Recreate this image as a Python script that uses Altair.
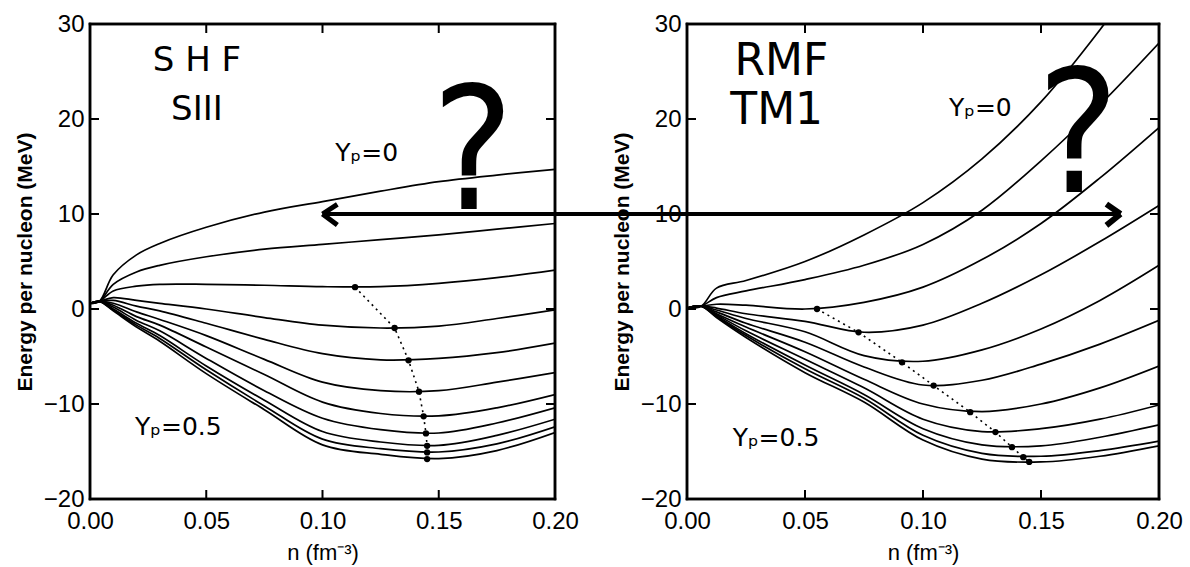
import altair as alt
import pandas as pd

# ---------------- data ----------------
yp_values = [0.0, 0.05, 0.10, 0.15, 0.20, 0.25, 0.30, 0.35, 0.40, 0.45, 0.50]

# SHF (SIII) panel
shf_n = [0.0, 0.004, 0.01, 0.02, 0.03, 0.05, 0.075, 0.10, 0.125, 0.15, 0.175, 0.20]
shf_yp00 = [0.6, 0.8, 3.6, 5.7, 6.9, 8.6, 10.2, 11.3, 12.4, 13.4, 14.1, 14.7]
shf_yp05 = [0.6, 0.8, 2.6, 3.9, 4.6, 5.5, 6.3, 6.8, 7.3, 7.8, 8.4, 9.0]
shf_yp10 = [0.6, 0.8, 1.9, 2.4, 2.6, 2.6, 2.5, 2.35, 2.35, 2.7, 3.3, 4.1]
shf_yp15 = [0.6, 0.8, 1.2, 0.9, 0.6, 0.0, -0.9, -1.7, -2.0, -1.8, -1.0, -0.1]
shf_yp20 = [0.6, 0.8, 0.9, 0.3, -0.2, -1.5, -3.2, -4.7, -5.35, -5.2, -4.6, -3.6]
shf_yp25 = [0.6, 0.8, 0.6, -0.3, -1.1, -2.8, -5.3, -7.7, -8.6, -8.6, -7.7, -6.7]
shf_yp30 = [0.6, 0.8, 0.4, -0.8, -1.7, -4.0, -6.9, -9.8, -11.0, -11.25, -10.4, -9.0]
shf_yp35 = [0.6, 0.8, 0.2, -1.2, -2.3, -5.2, -8.6, -11.5, -12.7, -13.05, -12.0, -10.4]
shf_yp40 = [0.6, 0.8, 0.0, -1.5, -2.8, -6.0, -9.6, -12.9, -14.0, -14.35, -13.3, -11.6]
shf_yp45 = [0.6, 0.8, -0.1, -1.7, -3.1, -6.4, -10.2, -13.7, -14.7, -15.05, -14.2, -12.4]
shf_yp50 = [0.6, 0.8, -0.2, -1.9, -3.4, -6.8, -10.6, -14.3, -15.3, -15.75, -14.9, -13.0]
shf_curves = [shf_yp00, shf_yp05, shf_yp10, shf_yp15, shf_yp20, shf_yp25,
              shf_yp30, shf_yp35, shf_yp40, shf_yp45, shf_yp50]
shf_sat_n = [0.114, 0.131, 0.137, 0.1415, 0.1435, 0.1445, 0.145, 0.145, 0.145]
shf_sat_E = [2.3, -2.0, -5.4, -8.7, -11.3, -13.1, -14.4, -15.1, -15.8]

# RMF (TM1) panel
tm1_n = [0.0, 0.006, 0.0125, 0.025, 0.05, 0.075, 0.10, 0.125, 0.15, 0.175, 0.20]
tm1_yp00 = [0.1, 0.3, 2.2, 3.0, 5.0, 7.8, 11.2, 15.8, 21.8, 29.4, 38.0]
tm1_yp05 = [0.1, 0.3, 1.2, 1.9, 3.1, 4.6, 6.8, 10.4, 15.6, 21.5, 28.0]
tm1_yp10 = [0.1, 0.3, 0.5, 0.4, 0.0, 0.7, 2.3, 5.2, 9.0, 13.8, 19.1]
tm1_yp15 = [0.1, 0.3, 0.1, -0.5, -1.3, -2.45, -1.7, 0.6, 3.6, 7.1, 10.9]
tm1_yp20 = [0.1, 0.3, -0.1, -1.0, -2.4, -4.9, -5.5, -4.3, -2.1, 0.9, 4.6]
tm1_yp25 = [0.1, 0.3, -0.3, -1.5, -3.5, -6.1, -8.0, -7.5, -5.8, -3.7, -1.2]
tm1_yp30 = [0.1, 0.3, -0.5, -1.9, -4.5, -7.4, -10.0, -10.8, -10.0, -8.3, -6.0]
tm1_yp35 = [0.1, 0.3, -0.6, -2.3, -5.3, -8.3, -11.6, -12.9, -12.6, -11.6, -10.1]
tm1_yp40 = [0.1, 0.3, -0.7, -2.6, -5.9, -9.0, -12.6, -14.3, -14.4, -13.5, -12.2]
tm1_yp45 = [0.1, 0.3, -0.8, -2.8, -6.3, -9.4, -13.3, -15.2, -15.5, -14.9, -13.9]
tm1_yp50 = [0.1, 0.3, -0.9, -3.0, -6.7, -9.8, -13.8, -15.8, -16.1, -15.5, -14.4]
tm1_curves = [tm1_yp00, tm1_yp05, tm1_yp10, tm1_yp15, tm1_yp20, tm1_yp25,
              tm1_yp30, tm1_yp35, tm1_yp40, tm1_yp45, tm1_yp50]
tm1_sat_n = [0.0551, 0.0727, 0.0911, 0.1045, 0.120, 0.1307, 0.1377, 0.1425, 0.145]
tm1_sat_E = [0.0, -2.46, -5.61, -8.06, -10.86, -12.96, -14.54, -15.6, -16.1]

# axes
n_domain = [0.0, 0.2]
E_domain = [-20, 30]
x_ticks = [0.0, 0.05, 0.10, 0.15, 0.20]
y_ticks = [-20, -10, 0, 10, 20, 30]

# annotations
shf_labels = ["S H F", "SIII"]
shf_label_n = [0.046, 0.046]
shf_label_E = [26.1, 20.9]
tm1_labels = ["RMF", "TM1"]
tm1_label_n = [0.040, 0.038]
tm1_label_E = [26.0, 20.8]
shf_yp_text = ["Yₚ=0", "Yₚ=0.5"]
shf_yp_n = [0.119, 0.038]
shf_yp_E = [16.4, -12.4]
tm1_yp_text = ["Yₚ=0", "Yₚ=0.5"]
tm1_yp_n = [0.1243, 0.0377]
tm1_yp_E = [21.2, -13.6]
question_n = [0.1647, 0.1657]
question_E = [10.5, 12.3]
arrow_E = 10.0
arrow_left_tip_n = 0.10
arrow_right_tip_n = 0.1837

W1, W2, H = 465, 472, 475
FONT = "Liberation Sans"
TICK = 9


def long_table(n_vals, curves):
    rows = []
    for yp, ys in zip(yp_values, curves):
        for n, e in zip(n_vals, ys):
            rows.append({"n": n, "E": e, "Yp": yp})
    return pd.DataFrame(rows)


def panel(n_vals, curves, sat_n, sat_E, labels, label_n, label_E, label_size,
          yp_text, yp_n, yp_E, q_n, q_E, width, side):
    xs = alt.Scale(domain=n_domain, nice=False, zero=False)
    ys = alt.Scale(domain=E_domain, nice=False, zero=False)
    xax = alt.Axis(values=x_ticks, format=".2f", title="n  (fm⁻³)", ticks=False, grid=False,
                   domain=False, labelFlush=False, labelFont=FONT, labelFontSize=24, labelPadding=10,
                   labelColor="black", titleFont=FONT, titleFontSize=22,
                   titleFontWeight="normal", titleColor="black", titlePadding=9)
    yax = alt.Axis(values=y_ticks, title="Energy per nucleon (MeV)", ticks=False, grid=False,
                   domain=False, labelFlush=False, labelFont=FONT, labelFontSize=24, labelPadding=6,
                   labelColor="black", titleFont=FONT, titleFontSize=21,
                   titleFontWeight="bold", titleColor="black", titlePadding=8)

    df = long_table(n_vals, curves)
    lines = alt.Chart(df).mark_line(color="black", strokeWidth=1.7, interpolate="catmull-rom",
                                    clip=True).encode(
        x=alt.X("n:Q", scale=xs, axis=xax),
        y=alt.Y("E:Q", scale=ys, axis=yax),
        detail="Yp:N",
    )
    sat = pd.DataFrame({"n": sat_n, "E": sat_E, "k": list(range(len(sat_n)))})
    dotted = alt.Chart(sat).mark_line(color="black", strokeWidth=1.6, strokeDash=[2, 4]).encode(
        x=alt.X("n:Q", scale=xs), y=alt.Y("E:Q", scale=ys), order="k:Q")
    dots = alt.Chart(sat).mark_point(color="black", filled=True, size=40, opacity=1).encode(
        x=alt.X("n:Q", scale=xs), y=alt.Y("E:Q", scale=ys))

    # frame of the plot area (four rules along the domain limits)
    n0, n1 = n_domain
    e0, e1 = E_domain
    fdf = pd.DataFrame({"n": [n0, n1, n0, n0], "n2": [n0, n1, n1, n1],
                        "E": [e0, e0, e0, e1], "E2": [e1, e1, e0, e1]})
    frame = alt.Chart(fdf).mark_rule(color="black", strokeWidth=2.5, strokeCap="square").encode(
        x=alt.X("n:Q", scale=xs), x2="n2:Q", y=alt.Y("E:Q", scale=ys), y2="E2:Q")

    # inner ticks on all four sides
    ldf = pd.DataFrame({"E": y_ticks, "n": [n0] * len(y_ticks)})
    rdf = pd.DataFrame({"E": y_ticks, "n": [n1] * len(y_ticks)})
    tdf = pd.DataFrame({"n": x_ticks, "E": [e1] * len(x_ticks)})
    bdf = pd.DataFrame({"n": x_ticks, "E": [e0] * len(x_ticks)})
    t_left = alt.Chart(ldf).mark_rule(color="black", strokeWidth=2).encode(
        y=alt.Y("E:Q", scale=ys), x=alt.X("n:Q", scale=xs), x2=alt.value(TICK))
    t_right = alt.Chart(rdf).mark_rule(color="black", strokeWidth=2).encode(
        y=alt.Y("E:Q", scale=ys), x=alt.X("n:Q", scale=xs), x2=alt.value(width - TICK))
    t_top = alt.Chart(tdf).mark_rule(color="black", strokeWidth=2).encode(
        x=alt.X("n:Q", scale=xs), y=alt.Y("E:Q", scale=ys), y2=alt.value(TICK))
    t_bot = alt.Chart(bdf).mark_rule(color="black", strokeWidth=2).encode(
        x=alt.X("n:Q", scale=xs), y=alt.Y("E:Q", scale=ys), y2=alt.value(H - TICK))

    lab = pd.DataFrame({"t": labels, "n": label_n, "E": label_E})
    big = alt.Chart(lab).mark_text(font="DejaVu Sans", fontSize=label_size, color="black",
                                   align="center", baseline="middle").encode(
        x=alt.X("n:Q", scale=xs), y=alt.Y("E:Q", scale=ys), text="t:N")
    ypd = pd.DataFrame({"t": yp_text, "n": yp_n, "E": yp_E})
    yptxt = alt.Chart(ypd).mark_text(font="DejaVu Sans", fontSize=25, color="black",
                                     align="center", baseline="middle").encode(
        x=alt.X("n:Q", scale=xs), y=alt.Y("E:Q", scale=ys), text="t:N")
    qd = pd.DataFrame({"t": ["?"], "n": [q_n], "E": [q_E]})
    qtxt = alt.Chart(qd).mark_text(font="DejaVu Sans Condensed, Liberation Sans", fontSize=172,
                                   fontWeight="normal", color="black", align="center",
                                   baseline="alphabetic").encode(
        x=alt.X("n:Q", scale=xs), y=alt.Y("E:Q", scale=ys), text="t:N")

    adf = pd.DataFrame({"n": [arrow_left_tip_n if side == "left" else arrow_right_tip_n],
                        "E": [arrow_E]})
    if side == "left":
        shaft = alt.Chart(adf).mark_rule(color="black", strokeWidth=4).encode(
            x=alt.X("n:Q", scale=xs), x2=alt.value(width + 132), y=alt.Y("E:Q", scale=ys))
        head = alt.Chart(adf).mark_point(shape="M0,0L2,-1.3M0,0L2,1.5", filled=False, color="black",
                                         strokeWidth=5, size=220, opacity=1).encode(
            x=alt.X("n:Q", scale=xs), y=alt.Y("E:Q", scale=ys))
    else:
        shaft = alt.Chart(adf).mark_rule(color="black", strokeWidth=4).encode(
            x=alt.X("n:Q", scale=xs), x2=alt.value(0), y=alt.Y("E:Q", scale=ys))
        head = alt.Chart(adf).mark_point(shape="M0,0L-2,-1.4M0,0L-2,1.6", filled=False, color="black",
                                         strokeWidth=6, size=200, opacity=1).encode(
            x=alt.X("n:Q", scale=xs), y=alt.Y("E:Q", scale=ys))

    return alt.layer(lines, dotted, dots, frame, t_left, t_right, t_top, t_bot, big, yptxt, qtxt,
                     shaft, head).properties(width=width, height=H)


left = panel(shf_n, shf_curves, shf_sat_n, shf_sat_E, shf_labels, shf_label_n, shf_label_E, 34,
             shf_yp_text, shf_yp_n, shf_yp_E, question_n[0], question_E[0], W1, "left")
right = panel(tm1_n, tm1_curves, tm1_sat_n, tm1_sat_E, tm1_labels, tm1_label_n, tm1_label_E, 44,
              tm1_yp_text, tm1_yp_n, tm1_yp_E, question_n[1], question_E[1], W2, "right")

chart = alt.hconcat(left, right, spacing=132, bounds="flush").properties(
    padding={"left": 13, "top": 10, "right": 5, "bottom": 2},
    background="white",
).configure_view(stroke="black", strokeWidth=2.5)

chart.save("out.html", embed_options={"renderer": "svg", "actions": False})
